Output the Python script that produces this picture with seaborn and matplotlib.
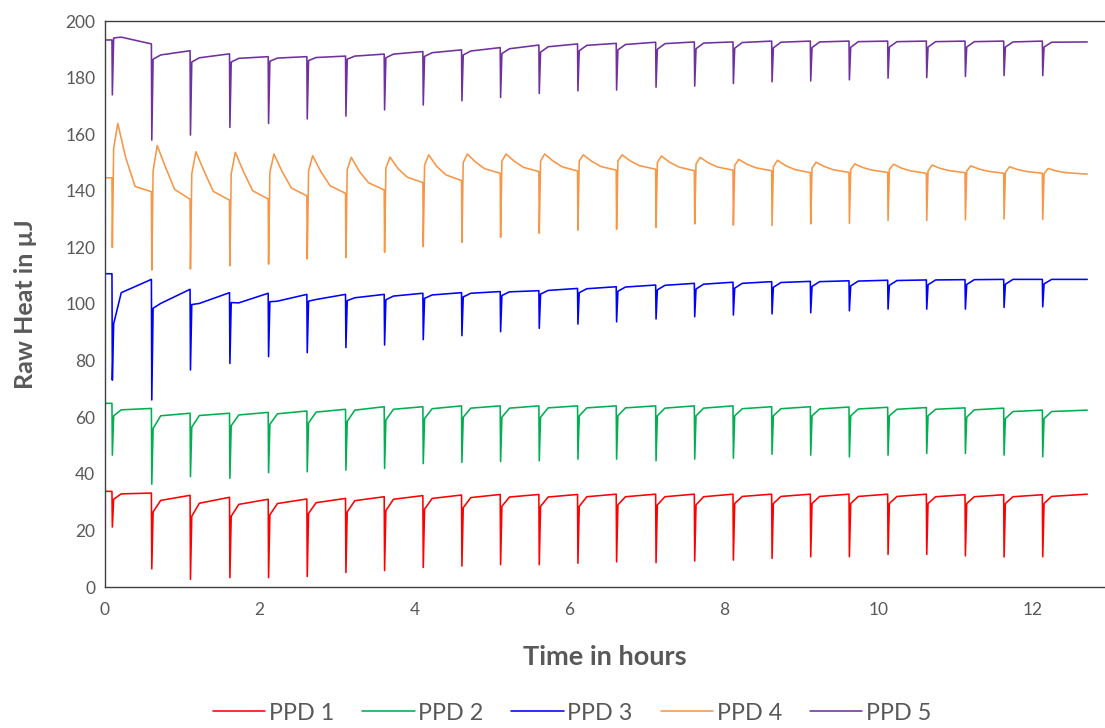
import numpy as np
import pandas as pd
import matplotlib
matplotlib.use("Agg")
import matplotlib.pyplot as plt
import seaborn as sns

# ---------------- data ----------------
series_names = ["PPD 1", "PPD 2", "PPD 3", "PPD 4", "PPD 5"]
injection_times = [0.09, 0.60, 1.10, 1.61, 2.11, 2.61, 3.11, 3.61, 4.11, 4.61,
                   5.11, 5.61, 6.11, 6.61, 7.12, 7.62, 8.12, 8.62, 9.12, 9.62,
                   10.12, 10.62, 11.12, 11.62, 12.12]
t_end = 12.70

# PPD 1 (red)
ppd1_start = 33.8
ppd1_dip = [21.2, 6.4, 2.7, 3.3, 3.3, 3.7, 5.1, 5.8, 6.9, 7.4, 7.9, 7.9, 8.4, 8.9,
            8.6, 9.2, 9.5, 10.1, 10.7, 10.7, 11.5, 11.5, 11.0, 10.6, 10.7]
ppd1_knee = [31.0, 26.5, 25.0, 25.0, 25.5, 26.0, 26.5, 27.0, 27.5, 28.0, 28.5, 28.5,
             28.5, 29.0, 29.0, 29.0, 29.5, 29.5, 29.5, 29.5, 29.5, 29.5, 29.5, 29.5, 29.5]
ppd1_mid = [32.9, 30.6, 29.6, 29.2, 29.5, 29.8, 30.5, 31.0, 31.3, 31.6, 31.8, 31.8,
            31.9, 31.9, 31.9, 31.9, 32.0, 32.0, 32.0, 32.0, 32.0, 31.9, 31.9, 31.9, 32.0]
ppd1_end = [33.2, 32.4, 31.7, 31.0, 31.1, 31.3, 31.9, 32.3, 32.5, 32.7, 32.7, 32.7,
            32.8, 32.8, 32.8, 32.8, 32.8, 32.8, 32.8, 32.8, 32.8, 32.6, 32.6, 32.6, 32.8]

# PPD 2 (green)
ppd2_start = 64.9
ppd2_dip = [46.6, 36.3, 39.0, 38.4, 40.4, 40.7, 41.3, 41.9, 43.6, 44.0, 44.3, 44.6,
            45.2, 45.2, 44.6, 45.2, 45.5, 46.9, 46.6, 46.0, 46.6, 47.2, 47.2, 46.6, 46.0]
ppd2_knee = [60.5, 56.0, 56.5, 57.0, 57.5, 58.0, 58.5, 59.0, 59.5, 60.0, 60.0, 60.0,
             60.5, 60.5, 60.5, 60.5, 60.5, 60.5, 60.5, 60.5, 60.5, 60.5, 60.0, 59.5, 59.5]
ppd2_mid = [62.6, 60.5, 60.6, 60.8, 61.2, 61.8, 62.5, 62.8, 63.0, 63.2, 63.2, 63.3,
            63.3, 63.3, 63.2, 63.2, 63.0, 63.0, 62.9, 62.9, 62.8, 62.8, 62.6, 62.0, 62.0]
ppd2_end = [63.1, 61.4, 61.4, 61.7, 62.2, 62.8, 63.7, 63.7, 64.0, 64.0, 64.0, 64.0,
            64.0, 64.0, 64.0, 64.0, 63.7, 63.7, 63.6, 63.5, 63.4, 63.3, 63.2, 62.5, 62.5]

# PPD 3 (blue)
ppd3_start = 110.7
ppd3_dip = [73.1, 66.1, 76.7, 79.0, 81.4, 82.8, 84.6, 85.5, 87.4, 88.8, 90.2, 91.4,
            92.9, 93.7, 94.7, 95.5, 96.1, 96.5, 96.9, 97.6, 98.2, 98.2, 98.2, 98.8, 99.0]
ppd3_knee = [93.0, 98.5, 99.8, 100.5, 100.8, 101.0, 101.2, 101.5, 102.0, 102.5, 103.0,
             103.5, 104.0, 104.5, 105.0, 105.3, 105.6, 105.9, 106.2, 106.4, 106.6,
             106.8, 106.9, 107.0, 107.1]
ppd3_mid = [104.0, 100.2, 100.2, 100.4, 101.0, 101.6, 102.2, 102.8, 103.2, 103.8, 104.3,
            104.8, 105.4, 106.0, 106.6, 107.0, 107.3, 107.6, 107.9, 108.1, 108.3, 108.5,
            108.6, 108.7, 108.7]
ppd3_end = [108.7, 105.2, 104.0, 103.8, 103.4, 103.4, 103.4, 103.8, 104.0, 104.4, 104.7,
            105.5, 106.1, 106.7, 107.3, 107.7, 107.9, 108.0, 108.2, 108.4, 108.5, 108.6,
            108.7, 108.7, 108.7]

# PPD 4 (orange)
ppd4_start = 144.6
ppd4_dip = [120.0, 112.0, 112.4, 113.5, 114.1, 115.9, 116.4, 118.3, 120.3, 121.8, 123.6,
            125.0, 126.1, 126.4, 127.1, 128.3, 127.9, 127.7, 128.3, 128.5, 129.5, 129.5,
            129.7, 130.0, 129.9]
ppd4_knee = [155.0, 147.0, 146.0, 146.0, 146.5, 147.0, 147.5, 148.0, 149.0, 150.0, 150.5,
             150.5, 150.5, 150.5, 150.0, 149.5, 149.0, 148.5, 148.0, 147.5, 147.5, 147.0,
             147.0, 146.5, 146.0]
ppd4_peak = [163.8, 156.0, 153.8, 153.6, 153.0, 152.4, 151.8, 151.9, 152.7, 153.0, 153.0,
             153.0, 152.7, 152.7, 152.3, 151.8, 151.1, 150.8, 150.1, 149.5, 149.4, 149.1,
             148.8, 148.5, 147.9]
ppd4_decay1 = [151.5, 148.5, 147.0, 146.8, 146.8, 146.8, 146.8, 147.8, 148.6, 150.2, 150.5,
               150.6, 150.5, 150.6, 150.1, 149.9, 149.4, 148.9, 148.6, 148.2, 148.0, 147.9,
               147.7, 147.5, 147.0]
ppd4_decay2 = [141.5, 140.5, 139.8, 140.0, 141.0, 141.8, 142.8, 144.8, 145.6, 147.8, 148.3,
               148.5, 148.6, 148.9, 148.4, 148.4, 148.1, 147.5, 147.4, 147.3, 147.0, 147.1,
               146.9, 146.8, 146.4]
ppd4_end = [139.7, 137.0, 136.7, 137.1, 138.2, 139.1, 140.3, 142.9, 143.6, 146.2, 146.8,
            147.0, 147.3, 147.6, 147.1, 147.3, 147.1, 146.4, 146.5, 146.5, 146.2, 146.4,
            146.2, 146.2, 145.9]

# PPD 5 (purple)
ppd5_start = 193.3
ppd5_dip = [173.9, 157.9, 159.7, 162.4, 163.8, 165.4, 166.4, 168.6, 170.3, 171.8, 173.0,
            174.4, 175.3, 175.6, 176.6, 177.0, 177.9, 178.5, 178.8, 179.2, 179.8, 180.0,
            180.4, 180.7, 180.7]
ppd5_knee = [194.0, 186.5, 185.5, 185.5, 185.8, 186.0, 186.5, 187.0, 187.5, 188.0, 188.5,
             189.0, 189.5, 189.8, 190.0, 190.2, 190.4, 190.5, 190.6, 190.7, 190.8, 190.8,
             190.8, 190.8, 190.8]
ppd5_mid = [194.3, 188.0, 187.0, 186.8, 186.9, 187.1, 187.6, 188.3, 188.8, 189.4, 190.2,
            190.9, 191.4, 191.7, 192.0, 192.2, 192.4, 192.5, 192.6, 192.7, 192.7, 192.7,
            192.7, 192.6, 192.5]
ppd5_end = [191.9, 189.5, 188.4, 187.4, 187.4, 187.6, 188.3, 189.2, 189.8, 190.6, 191.5,
            191.9, 192.1, 192.5, 192.6, 192.6, 192.9, 192.9, 192.9, 192.9, 192.9, 192.9,
            192.9, 192.9, 192.6]

y_ticks = [0, 20, 40, 60, 80, 100, 120, 140, 160, 180, 200]
x_ticks = [0, 2, 4, 6, 8, 10, 12]
colors = ["#FF0000", "#00B050", "#0000FF", "#F79646", "#7030A0"]


# ---------------- build key-point traces ----------------
def trace(start, stages, offsets):
    """stages: per-injection value arrays placed at the given time offsets after
    each injection; the last array is the level just before the next injection."""
    xs, ys = [0.0], [start]
    prev = start
    nxt = injection_times[1:] + [t_end]
    for i, t in enumerate(injection_times):
        xs.append(t)
        ys.append(prev)
        for arr, off in zip(stages[:-1], offsets):
            xs.append(t + off)
            ys.append(arr[i])
        xs.append(nxt[i])
        ys.append(stages[-1][i])
        prev = stages[-1][i]
    return xs, ys


std_off = [0.005, 0.022, 0.12]
ppd4_off = [0.005, 0.022, 0.075, 0.18, 0.30]

traces = [
    trace(ppd1_start, [ppd1_dip, ppd1_knee, ppd1_mid, ppd1_end], std_off),
    trace(ppd2_start, [ppd2_dip, ppd2_knee, ppd2_mid, ppd2_end], std_off),
    trace(ppd3_start, [ppd3_dip, ppd3_knee, ppd3_mid, ppd3_end], std_off),
    trace(ppd4_start, [ppd4_dip, ppd4_knee, ppd4_peak, ppd4_decay1, ppd4_decay2, ppd4_end], ppd4_off),
    trace(ppd5_start, [ppd5_dip, ppd5_knee, ppd5_mid, ppd5_end], std_off),
]

frames = []
for name, (xs, ys) in zip(series_names, traces):
    frames.append(pd.DataFrame({"Time": xs, "Heat": ys, "Series": name}))
df = pd.concat(frames, ignore_index=True)

# ---------------- plot ----------------
sns.set_style("white")
plt.rcParams["font.family"] = ["Lato", "DejaVu Sans"]

fig = plt.figure(figsize=(11.05, 7.28), dpi=100)
ax = fig.add_axes([105 / 1105, 1 - 587 / 728, 1000 / 1105, (587 - 21) / 728])

sns.lineplot(data=df, x="Time", y="Heat", hue="Series", hue_order=series_names,
             palette=colors, estimator=None, sort=False, linewidth=1.15, ax=ax,
             legend=True)

ax.set_xlim(0, 12.93)
ax.set_ylim(0, 200)
ax.set_xticks(x_ticks)
ax.set_yticks(y_ticks)
ax.tick_params(axis="both", which="major", direction="out", length=5, width=1,
               color="#404040", labelcolor="#595959", labelsize=12.5, pad=2)
ax.tick_params(axis="x", pad=6)
for side in ["left", "bottom", "top"]:
    ax.spines[side].set_color("#404040")
    ax.spines[side].set_linewidth(1.0)
ax.spines["right"].set_visible(False)
ax.grid(False)

ax.set_xlabel("Time in hours", fontsize=19.5, fontweight="bold", color="#595959", labelpad=19)
ax.set_ylabel("Raw Heat in µJ", fontsize=18, fontweight="bold", color="#595959")
ax.yaxis.set_label_coords(-0.068, 0.5)

handles, labels = ax.get_legend_handles_labels()
ax.get_legend().remove()
for h in handles:
    h.set_linewidth(1.15)
fig.legend(handles, labels, loc="center", bbox_to_anchor=(572 / 1105, 1 - 713 / 728),
           ncol=5, frameon=False, fontsize=16.8, handlelength=2.25, handletextpad=0.15,
           columnspacing=1.2, labelcolor="#595959")

fig.savefig("out.png", dpi=100)
